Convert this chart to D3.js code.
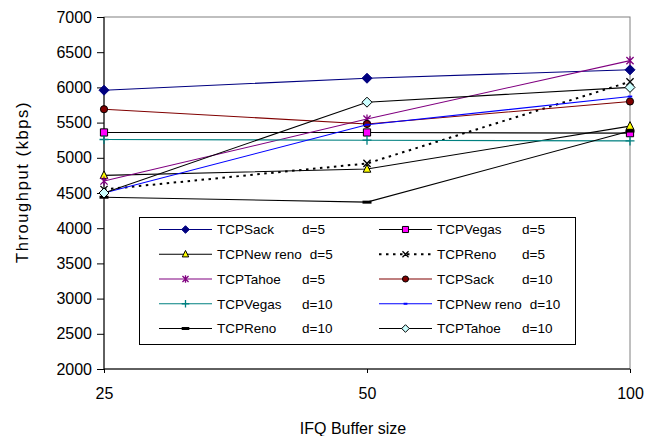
<!DOCTYPE html>
<html>
<head>
<meta charset="utf-8">
<script src="https://cdn.jsdelivr.net/npm/d3@7/dist/d3.min.js"></script>
<style>
  body { margin: 0; background: #fff; }
  svg { display: block; font-family: "Liberation Sans", Arial, sans-serif; }
  .axis path, .axis line { stroke: #000; }
</style>
</head>
<body>
<svg id="chart"></svg>
<script>
// buffer sizes on the x axis
const categories = ['25', '50', '100'];
const yTicks = [2000, 2500, 3000, 3500, 4000, 4500, 5000, 5500, 6000, 6500, 7000];

// series, in legend order
const protocols = ['TCPSack', 'TCPVegas', 'TCPNew reno', 'TCPReno', 'TCPTahoe',
  'TCPSack', 'TCPVegas', 'TCPNew reno', 'TCPReno', 'TCPTahoe'];
const delays = ['d=5', 'd=5', 'd=5', 'd=5', 'd=5', 'd=10', 'd=10', 'd=10', 'd=10', 'd=10'];

const sack5 = [5960, 6130, 6250];
const vegas5 = [5360, 5360, 5350];
const newreno5 = [4750, 4840, 5450];
const reno5 = [4550, 4920, 6080];
const tahoe5 = [4670, 5550, 6380];
const sack10 = [5690, 5480, 5800];
const vegas10 = [5260, 5250, 5240];
const newreno10 = [4500, 5470, 5870];
const reno10 = [4440, 4370, 5380];
const tahoe10 = [4500, 5790, 6000];

const allValues = [sack5, vegas5, newreno5, reno5, tahoe5, sack10, vegas10, newreno10, reno10, tahoe10];

// look of each series (line colour, marker, marker fill)
const styles = [
  {line: '#000080', marker: 'diamond', fill: '#000080', edge: '#000080'},
  {line: '#000000', marker: 'square', fill: '#ff00ff', edge: '#000000'},
  {line: '#000000', marker: 'triangle', fill: '#ffff00', edge: '#000000'},
  {line: '#000000', marker: 'x', fill: 'none', edge: '#000000', dash: '2.5,4.5', width: 2},
  {line: '#800080', marker: 'star', fill: 'none', edge: '#800080'},
  {line: '#800000', marker: 'circle', fill: '#800000', edge: '#000000'},
  {line: '#008080', marker: 'plus', fill: 'none', edge: '#008080'},
  {line: '#0000ff', marker: 'dash', fill: '#0000ff', edge: '#0000ff'},
  {line: '#000000', marker: 'bar', fill: '#000000', edge: '#000000'},
  {line: '#000000', marker: 'diamond', fill: '#ccffff', edge: '#000000'}
];

const width = 658, height = 436;
const plot = {left: 104, right: 630, top: 17, bottom: 369};

const x = d3.scalePoint().domain(categories).range([plot.left, plot.right]);
const y = d3.scaleLinear().domain([2000, 7000]).range([plot.bottom, plot.top]);

const line = d3.line()
  .x((d, i) => x(categories[i]))
  .y(d => y(d));

// marker path for a shape of half-size r
function markerPath(kind, r) {
  const p = d3.path();
  switch (kind) {
    case 'diamond':
      p.moveTo(0, -r); p.lineTo(r, 0); p.lineTo(0, r); p.lineTo(-r, 0); p.closePath(); break;
    case 'square':
      p.rect(-r * 0.8, -r * 0.8, r * 1.6, r * 1.6); break;
    case 'triangle':
      p.moveTo(0, -r); p.lineTo(r * 0.85, r * 0.7); p.lineTo(-r * 0.85, r * 0.7); p.closePath(); break;
    case 'circle':
      p.arc(0, 0, r * 0.8, 0, 2 * Math.PI); break;
    case 'x':
      p.moveTo(-r * 0.8, -r * 0.8); p.lineTo(r * 0.8, r * 0.8);
      p.moveTo(r * 0.8, -r * 0.8); p.lineTo(-r * 0.8, r * 0.8); break;
    case 'star':
      p.moveTo(-r * 0.8, -r * 0.8); p.lineTo(r * 0.8, r * 0.8);
      p.moveTo(r * 0.8, -r * 0.8); p.lineTo(-r * 0.8, r * 0.8);
      p.moveTo(0, -r); p.lineTo(0, r); break;
    case 'plus':
      p.moveTo(0, -r); p.lineTo(0, r);
      p.moveTo(-r, 0); p.lineTo(r, 0); break;
    case 'dash':
      p.rect(-r * 0.5, -1, r, 2); break;
    case 'bar':
      p.rect(-r, -1.5, 2 * r, 3); break;
  }
  return p.toString();
}

function drawMarker(g, s, r) {
  const open = s.marker === 'x' || s.marker === 'star' || s.marker === 'plus';
  g.append('path')
    .attr('d', markerPath(s.marker, r))
    .attr('fill', open ? 'none' : s.fill)
    .attr('stroke', open ? s.edge : (s.marker === 'dash' || s.marker === 'bar' ? 'none' : s.edge))
    .attr('stroke-width', open ? 1.3 : 1);
}

const svg = d3.select('#chart').attr('width', width).attr('height', height);

// plot frame (top and right in grey)
svg.append('rect')
  .attr('x', plot.left).attr('y', plot.top)
  .attr('width', plot.right - plot.left).attr('height', plot.bottom - plot.top)
  .attr('fill', 'none').attr('stroke', '#808080');

const yAxis = svg.append('g').attr('class', 'axis')
  .attr('transform', `translate(${plot.left},0)`)
  .call(d3.axisLeft(y).tickValues(yTicks).tickSize(7).tickPadding(5).tickFormat(d3.format('d')));
yAxis.selectAll('text').attr('font-size', 16).attr('font-family', null).attr('fill', '#000');

const xAxis = svg.append('g').attr('class', 'axis')
  .attr('transform', `translate(0,${plot.bottom})`)
  .call(d3.axisBottom(x).tickSize(4).tickPadding(15));
xAxis.selectAll('text').attr('font-size', 16).attr('font-family', null).attr('fill', '#000');
xAxis.select('.domain').attr('d', `M${plot.left},0H${plot.right}`);
yAxis.select('.domain').attr('d', `M0,${plot.top}V${plot.bottom}`);

// series
allValues.forEach((vals, k) => {
  const s = styles[k];
  svg.append('path')
    .datum(vals)
    .attr('d', line)
    .attr('fill', 'none')
    .attr('stroke', s.line)
    .attr('stroke-width', s.width || 1.1)
    .attr('stroke-dasharray', s.dash || null);
  vals.forEach((v, i) => {
    const g = svg.append('g').attr('transform', `translate(${x(categories[i])},${y(v)})`);
    drawMarker(g, s, s.marker === 'diamond' ? 5 : 4.5);
  });
});

// legend
const legend = svg.append('g');
legend.append('rect')
  .attr('x', 139.5).attr('y', 217.5).attr('width', 436).attr('height', 127)
  .attr('fill', '#fff').attr('stroke', '#000');

protocols.forEach((name, k) => {
  const s = styles[k];
  const col = k % 2, row = Math.floor(k / 2);
  const x0 = col === 0 ? 159 : 379;
  const cy = 229.5 + row * 24.75;
  const g = legend.append('g');
  g.append('line')
    .attr('x1', x0).attr('x2', x0 + 53).attr('y1', cy).attr('y2', cy)
    .attr('stroke', s.line).attr('stroke-width', s.width || 1.1)
    .attr('stroke-dasharray', s.dash || null);
  const m = g.append('g').attr('transform', `translate(${x0 + 26.5},${cy})`);
  drawMarker(m, s, 3.8);
  const t = g.append('text')
    .attr('x', x0 + 58).attr('y', cy).attr('dy', '0.36em')
    .attr('font-size', 13.5).text(name);
  const w = t.node().getComputedTextLength();
  g.append('text')
    .attr('x', Math.max(x0 + 143, x0 + 58 + w + 8)).attr('y', cy).attr('dy', '0.36em')
    .attr('font-size', 13.5).text(delays[k]);
});

// axis titles
svg.append('text')
  .attr('x', 353).attr('y', 434)
  .attr('text-anchor', 'middle').attr('font-size', 16)
  .text('IFQ Buffer size');

svg.append('text')
  .attr('transform', 'translate(28,182) rotate(-90)')
  .attr('text-anchor', 'middle').attr('font-size', 16.5)
  .attr('letter-spacing', 1.6)
  .text('Throughput (kbps)');
</script>
</body>
</html>
